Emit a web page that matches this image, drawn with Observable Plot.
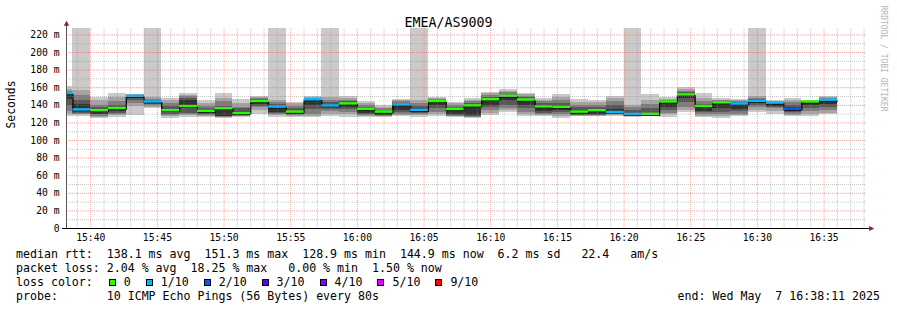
<!DOCTYPE html>
<html><head><meta charset="utf-8">
<script src="https://cdn.jsdelivr.net/npm/d3@7"></script>
<script src="https://cdn.jsdelivr.net/npm/@observablehq/plot@0.6"></script>
<style>
html,body{margin:0;padding:0;background:#fff;}
#wrap{position:relative;width:897px;height:310px;overflow:hidden;background:#fff;}
#chart svg{display:block;}
.leg{position:absolute;left:16px;font-family:'DejaVu Sans Mono',monospace;font-size:11.6px;line-height:14px;height:14px;white-space:pre;color:#000;}
.row{display:flex;align-items:center;}
.sw{display:inline-block;width:5px;height:5px;border:1px solid #000;margin-right:8px;}
.lab{margin-right:15px;}
</style></head><body>
<div id="wrap"><div id="chart"></div></div>
<script>
// ---- data ----
const title = "EMEA/AS9009";
const yLabel = "Seconds";
const watermark = "RRDTOOL / TOBI OETIKER";
// sorted ping values per 80 s step (ms); null = lost ping (drawn to the top)
const p1 = [127,127.5,124.5,126.5,128.4,136,125,126.5,125.7,125.4, 126.5,129.5,126.5,126,126,127,126.7,125.8,126,127, 126.5,127,126.5,125.5,128,132,127.3,127,125.4,127, 127,127,126.5,126.8,126.7,131.5,126,125.5,127,132, 130,127,127,129];
const p2 = [130,129,126,128,139,138,127,128,127.5,125.8, 127,134,128.5,127,127.5,130,129,127,126.8,128, 128,129,127,126,131,134,129,128,127,127.5, 127.5,128,127,127.3,129,134,127.5,127,128,134, 133.5,128.5,130,131];
const p3 = [133,130,127.5,129.5,142.5,139.5,128.5,129.5,128.5,126.3, 127.5,137,130,128,130,133,132,128.5,127.5,130, 129.5,132,127.5,126.5,134,136,132,129.5,129.5,128, 128,129,127.5,127.7,131,138,129.5,129,130,137.5, 136,130,133,134];
const p4 = [140,131,129,131,145,141,130,131,130,126.8, 128,139,131,129,135,135,135,130,128,132, 130.5,136,128.5,127,137.5,140,136,131,132,128.5, 128.5,130,128,128.1,134,143.5,131.5,132,132.5,139.5, 137.5,131.5,136,137];
const p5 = [147,132.5,130,133,147.5,142,131.5,136.5,131,127.5, 128.5,140.5,132,130,140,137,137,131,128.5,134, 131.5,139.5,130,128,140,145,140,132.5,134,129, 129.5,130.5,128.3,128.5,138,148,133,136,135,141.5, 139,133,139.5,141];
const p6 = [153,141,134,137,150,144,135,146,134,136, 133,145,139,133,146.5,141,142,136,133,141, 136,145,136,140,147.5,151,147,140,140,134, 135,135,131,131,144,152.5,138.5,143,142,145, 142.5,137,143.5,146];
const p7 = [154,146,137,140,150.8,145.5,139,148,136,139, 136,146.5,141,136,147.5,143,144,138,134.5,142.5, 139,146,138,142,149,152.5,148.5,142,142,137, 137.5,140,134,136,145,154,141,144,143,146.5, 143,140,144,147];
const p8 = [156,151,140,144,151.3,147,142,150,139,144, 138,148,143,139,148,145,146,140,136,144, 142,147,140,144,151,154,150,144,145,140, 140,144,137,141,146,155.5,144,145,144,148, 143.5,143,144.5,148];
const p9 = [158,157,145,149,151.8,149,145,151.5,142,148, 142,149,145.5,141.5,148.8,148.5,148,142.5,138,145.5, 146,148,141.5,146,153,156,152,146,149,143.5, 143,147.5,140,146,147,158,148,146,145,149.5, 144.2,146,145,149];
const p10 = [161,null,148.5,153,152.5,null,147.5,153,145.5,153.9, 147,150,null,143,149.5,null,150,144.3,140,146.6, null,149.2,143,147.5,154.6,158,153.8,147.3,152.3,146.5, 145.6,150,null,152.3,148.5,160.6,153,147.5,146.2,null, 145,148,145.5,150];
const median = [152.5,134,133,135.5,149.5,143,133,137.8,132.3,135.3, 130,143.5,137.2,131.5,145.5,138.5,140.8,134.6,131.5,139.6, 133.5,143.5,134.5,138.6,145.5,149.6,145.2,137.4,137,131.5, 133,131,128.8,128.9,143,151,137.8,142,140.7,143.7, 141.7,134.8,143,145];
const lossIdx = [1,1,0,0,1,1,0,0,0,0, 0,0,1,0,1,1,0,0,0,1, 1,0,0,0,0,0,0,0,0,0, 0,1,1,0,0,0,0,0,1,1, 1,2,0,1];
const lossLabels = ["0","1/10","2/10","3/10","4/10","5/10","9/10"];
const lossColors = ["#26ff00","#00b8ff","#0059ff","#5e00ff","#7e00ff","#dd00ff","#ff0000"];
const smokeColors = ["#cacaca","#a4a4a4","#7e7e7e","#585858","#323232"];
const yTickValues = [0,20,40,60,80,100,120,140,160,180,200,220];
const xTickLabels = ["15:40","15:45","15:50","15:55","16:00","16:05","16:10","16:15","16:20","16:25","16:30","16:35"];
const line1 = "median rtt:  138.1 ms avg  151.3 ms max  128.9 ms min  144.9 ms now  6.2 ms sd   22.4   am/s";
const line2 = "packet loss: 2.04 % avg  18.25 % max   0.00 % min  1.50 % now";
const line3 = "loss color:";
const line4 = "probe:       10 ICMP Echo Pings (56 Bytes) every 80s";
const endText = "end: Wed May  7 16:38:11 2025";

// ---- time frame ----
const day = [2025, 4, 7];
const xDomain = [new Date(Date.UTC(...day, 15, 38, 11)), new Date(Date.UTC(...day, 16, 38, 11))];
const firstStepStart = Date.UTC(...day, 15, 37, 20);
const stepMs = 80000;
const yTop = 227.3;

const pings = [p1,p2,p3,p4,p5,p6,p7,p8,p9,p10];
const rows = median.map((m, i) => ({
  start: new Date(firstStepStart + i * stepMs),
  end: new Date(firstStepStart + (i + 1) * stepMs),
  p: pings.map(a => a[i]),
  median: m,
  color: lossColors[lossIdx[i]]
}));
const linePts = rows.map(d => ({t: d.start, m: d.median}))
  .concat([{t: rows[rows.length - 1].end, m: rows[rows.length - 1].median}]);

const xTicks = xTickLabels.map(s => { const [h, mi] = s.split(":").map(Number); return new Date(Date.UTC(...day, h, mi)); });
const minuteTicks = d3.utcMinute.range(xDomain[0], xDomain[1]);
const minorX = minuteTicks.filter(t => t.getUTCMinutes() % 5 !== 0);
const majorY = yTickValues.filter(v => v > 0);
const minorY = d3.range(10, 220, 20);

const arrowUp = {draw(ctx) { ctx.moveTo(0, -2.7); ctx.lineTo(2.7, 2.3); ctx.lineTo(-2.7, 2.3); ctx.closePath(); }};
const arrowRight = {draw(ctx) { ctx.moveTo(2.8, 0); ctx.lineTo(-2.4, -2.6); ctx.lineTo(-2.4, 2.6); ctx.closePath(); }};

const gridMinor = {stroke: "#8f8f8f", strokeOpacity: 0.5, strokeDasharray: "1,1"};
const gridMajor = {stroke: "#de5050", strokeOpacity: 0.5, strokeDasharray: "1,1"};

const chart = Plot.plot({
  width: 897,
  height: 246,
  marginLeft: 66,
  marginRight: 31,
  marginTop: 28,
  marginBottom: 18,
  style: {fontFamily: "'DejaVu Sans Mono', monospace", fontSize: "9.7px", color: "#000", background: "transparent"},
  color: {type: "identity"},
  x: {type: "utc", domain: xDomain, ticks: xTicks, tickFormat: d3.utcFormat("%H:%M"), tickSize: 0, tickPadding: 6, label: null},
  y: {domain: [0, yTop], ticks: yTickValues, tickFormat: d => d === 0 ? "0" : `${d} m`, tickSize: 0, tickPadding: 7, label: null},
  marks: [
    ...smokeColors.map((c, b) => Plot.rect(rows, {
      x1: "start", x2: "end",
      y1: d => d.p[b],
      y2: d => d.p[9 - b] == null ? yTop : d.p[9 - b],
      fill: c, clip: true, shapeRendering: "crispEdges"
    })),
    Plot.line(linePts, {x: "t", y: "m", curve: "step-after", stroke: "#000", strokeWidth: 1.2, clip: true}),
    Plot.ruleY(rows, {y: "median", x1: "start", x2: "end", stroke: "color", strokeWidth: 2.5, dy: -1.2, clip: true}),
    Plot.ruleX(minorX, gridMinor),
    Plot.ruleX(xTicks, gridMajor),
    Plot.ruleY(minorY, gridMinor),
    Plot.ruleY(majorY, gridMajor),
    Plot.ruleX([xDomain[0]], {stroke: "#555", insetTop: -6}),
    Plot.ruleY([0], {stroke: "#000", insetLeft: -4, insetRight: -3}),
    Plot.dot([{x: xDomain[0], y: yTop}], {x: "x", y: "y", dy: -5, symbol: arrowUp, r: 3, fill: "#9b1c1c", stroke: null}),
    Plot.dot([{x: xDomain[1], y: 0}], {x: "x", y: "y", dx: 5, symbol: arrowRight, r: 3, fill: "#9b1c1c", stroke: null}),
    Plot.text([title], {text: d => d, frameAnchor: "top", dy: -11, dx: -18, fontSize: 13.3, fill: "#000"}),
    Plot.text([yLabel], {text: d => d, frameAnchor: "left", rotate: -90, dx: -55, fontSize: 11.4, fill: "#000"}),
    Plot.text([watermark], {text: d => d, frameAnchor: "top-right", rotate: 90, textAnchor: "start", dx: 20, dy: -23, fontSize: 8, fill: "#b4b4b4"})
  ]
});
const wrap = document.getElementById("wrap");
document.getElementById("chart").appendChild(chart);

// ---- legend (below the SVG) ----
function addLine(top, text) {
  const d = document.createElement("div");
  d.className = "leg";
  d.style.top = top + "px";
  d.textContent = text;
  wrap.appendChild(d);
  return d;
}
addLine(247, line1);
addLine(261, line2);
const l3 = addLine(275, "");
l3.classList.add("row");
const lt = document.createElement("span");
lt.textContent = line3;
lt.style.marginRight = "16px";
l3.appendChild(lt);
lossLabels.forEach((lab, i) => {
  const sw = document.createElement("span");
  sw.className = "sw";
  sw.style.background = lossColors[i];
  l3.appendChild(sw);
  const t = document.createElement("span");
  t.className = "lab";
  t.textContent = lab;
  l3.appendChild(t);
});
addLine(289, line4);
const e = addLine(289, endText);
e.style.left = "auto";
e.style.right = "17px";
</script>
</body></html>
